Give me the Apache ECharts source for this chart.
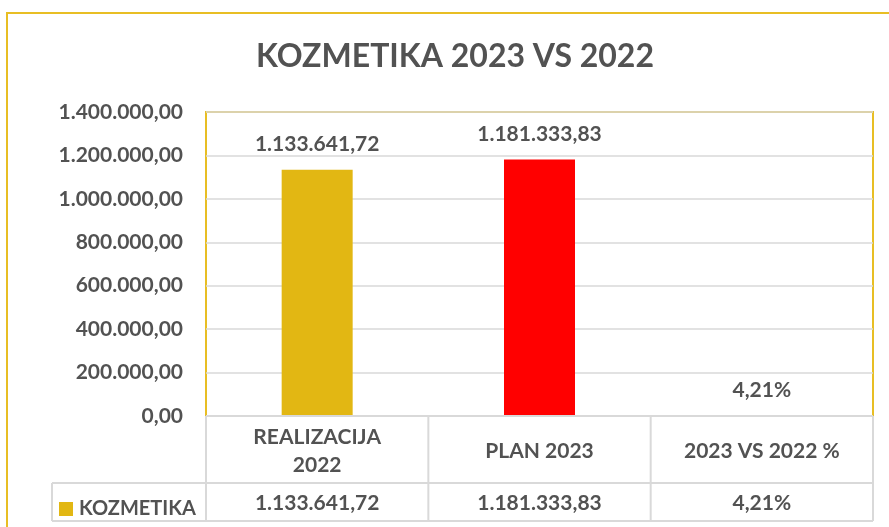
<!DOCTYPE html>
<html>
<head>
<meta charset="utf-8">
<script src="https://cdn.jsdelivr.net/npm/echarts@6/dist/echarts.min.js"></script>
<style>
  html, body { margin: 0; padding: 0; background: #fff; }
  #chart { width: 889px; height: 527px; }
</style>
</head>
<body>
<div id="chart"></div>
<script>
// podaci
const categories = ['REALIZACIJA\n2022', 'PLAN 2023', '2023 VS 2022 %']
const seriesName = 'KOZMETIKA'
const values = [1133641.72, 1181333.83, 0.0421]
const isPercent = [false, false, true]
const yTicks = { min: 0, max: 1400000, interval: 200000 }

const GOLD = '#E2B713'
const BORDER = '#E8BE24'
const RED = '#FF0000'
const TEXT = '#525252'
const LINE = '#D9D9D9'
const FONT = 'Lato, "Open Sans", sans-serif'
const FS = 21

// 1133641.72 -> 1.133.641,72
function fmtNum(v) {
  const parts = v.toFixed(2).split('.')
  return parts[0].replace(/\B(?=(\d{3})+(?!\d))/g, '.') + ',' + parts[1]
}
function fmtValue(i) {
  return isPercent[i] ? (values[i] * 100).toFixed(2).replace('.', ',') + '%' : fmtNum(values[i])
}

const chart = echarts.init(document.getElementById('chart'))

// plot area
const G = { left: 206, top: 112, right: 873, bottom: 416 }
const rowMid = 483, rowEnd = 521, legendLeft = 52
const colW = (G.right - G.left) / categories.length

const tableLines = []
const hLine = (x1, x2, y) => tableLines.push({ type: 'line', shape: { x1, y1: y, x2, y2: y }, style: { stroke: LINE, lineWidth: 2 }, z: 10 })
const vLine = (x, y1, y2) => tableLines.push({ type: 'line', shape: { x1: x, y1, x2: x, y2 }, style: { stroke: LINE, lineWidth: 2 }, z: 10 })
hLine(G.left, G.right, G.bottom)
hLine(legendLeft, G.right, rowMid)
hLine(legendLeft, G.right, rowEnd)
vLine(legendLeft, rowMid, rowEnd)
for (let i = 0; i <= categories.length; i++) vLine(G.left + colW * i, G.bottom, rowEnd)

const txt = { fontFamily: FONT, fontSize: FS, fontWeight: 'bold', color: TEXT }

chart.setOption({
  animation: false,
  textStyle: { fontFamily: FONT },
  title: {
    text: 'KOZMETIKA 2023 VS 2022',
    left: 450,
    top: 36,
    textAlign: 'center',
    textStyle: { fontFamily: FONT, fontSize: 32, fontWeight: 'bold', color: TEXT }
  },
  legend: {
    left: 54,
    top: 494,
    itemWidth: 14,
    itemHeight: 14,
    itemGap: 6,
    icon: 'rect',
    textStyle: Object.assign({}, txt, { fontSize: 20, padding: [0, 0, 0, 1] }),
    data: [seriesName]
  },
  grid: {
    left: G.left, top: G.top, right: 889 - G.right, bottom: 527 - G.bottom,
    show: true, borderColor: BORDER, borderWidth: 2
  },
  xAxis: [
    {
      type: 'category',
      data: categories,
      axisLine: { show: false },
      axisTick: { show: false },
      axisLabel: Object.assign({ interval: 0, margin: 35, verticalAlign: 'middle', lineHeight: 28 }, txt)
    },
    {
      type: 'category',
      data: categories,
      position: 'bottom',
      offset: 0,
      axisLine: { show: false },
      axisTick: { show: false },
      axisLabel: Object.assign({ interval: 0, margin: 87, verticalAlign: 'middle', formatter: (v, i) => fmtValue(i) }, txt)
    }
  ],
  yAxis: {
    type: 'value',
    min: yTicks.min,
    max: yTicks.max,
    interval: yTicks.interval,
    axisLine: { show: false },
    axisTick: { show: false },
    axisLabel: Object.assign({ margin: 23, formatter: (v) => fmtNum(v) }, txt),
    splitLine: { lineStyle: { color: LINE, width: 1.5 } }
  },
  series: [
    {
      type: 'bar',
      name: seriesName,
      barWidth: 71,
      itemStyle: { color: GOLD },
      data: values.map((v, i) => i === 1 ? { value: v, itemStyle: { color: RED } } : v),
      label: Object.assign({
        show: true,
        position: 'top',
        distance: 15,
        formatter: (p) => fmtValue(p.dataIndex)
      }, txt)
    }
  ],
  graphic: [
    {
      type: 'rect',
      shape: { x: 7, y: 13, width: 920, height: 540 },
      style: { fill: 'none', stroke: BORDER, lineWidth: 2 },
      z: 10
    },
    ...tableLines
  ]
})
</script>
</body>
</html>
